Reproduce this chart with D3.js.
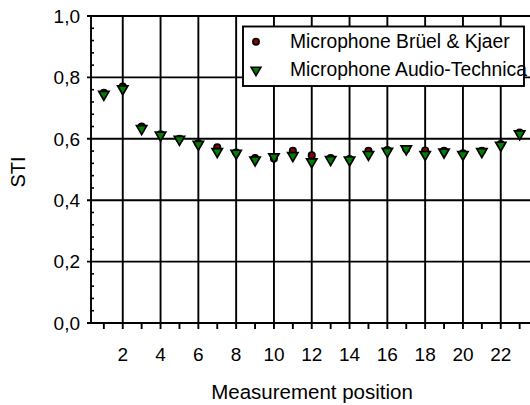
<!DOCTYPE html>
<html>
<head>
<meta charset="utf-8">
<script src="https://cdn.jsdelivr.net/npm/d3@7"></script>
<style>
  html, body { margin: 0; padding: 0; background: #fff; }
  svg { display: block; }
  text { font-family: "Liberation Sans", Arial, sans-serif; fill: #000; }
</style>
</head>
<body>
<svg id="chart" width="530" height="405"></svg>
<script>
const positions = d3.range(1, 24);
const bruelKjaer = [0.750, 0.770, 0.640, 0.615, 0.600, 0.585, 0.572, 0.555, 0.537, 0.536, 0.561, 0.546, 0.537, 0.534, 0.561, 0.563, 0.567, 0.562, 0.561, 0.553, 0.561, 0.583, 0.620];
const audioTechnica = [0.745, 0.763, 0.633, 0.612, 0.598, 0.582, 0.558, 0.553, 0.531, 0.541, 0.545, 0.525, 0.532, 0.531, 0.549, 0.559, 0.567, 0.549, 0.557, 0.549, 0.558, 0.579, 0.616];
const xTicks = [2, 4, 6, 8, 10, 12, 14, 16, 18, 20, 22];
const xMinorTicks = [1, 3, 5, 7, 9, 11, 13, 15, 17, 19, 21, 23];
const yTicks = [0, 0.2, 0.4, 0.6, 0.8, 1.0];
const seriesNames = ["Microphone Brüel & Kjaer", "Microphone Audio-Technica"];
const xTitle = "Measurement position";
const yTitle = "STI";

(function () {
const svg = d3.select("#chart");
const pLeft = 91, pTop = 16, pBottom = 323;
const x = d3.scaleLinear().domain([0.32, 24]).range([pLeft, pLeft + 23.68 * 18.9]);
const y = d3.scaleLinear().domain([0, 1]).range([pBottom, pTop]);
const fmt = d => d3.format(".1f")(d).replace(".", ",");
const lw = 1.9;

const g = svg.append("g");
g.selectAll(".vg").data(xTicks).enter().append("line")
  .attr("x1", d => x(d)).attr("x2", d => x(d))
  .attr("y1", pTop).attr("y2", pBottom + 6)
  .attr("stroke", "#000").attr("stroke-width", lw);
g.selectAll(".vm").data(xMinorTicks).enter().append("line")
  .attr("x1", d => x(d)).attr("x2", d => x(d))
  .attr("y1", pBottom).attr("y2", pBottom + 6)
  .attr("stroke", "#000").attr("stroke-width", lw);
g.selectAll(".hg").data(yTicks).enter().append("line")
  .attr("x1", pLeft - 4).attr("x2", 530)
  .attr("y1", d => y(d)).attr("y2", d => y(d))
  .attr("stroke", "#000").attr("stroke-width", lw);
const yMinor = d3.range(0, 1.0001, 0.04).filter(v => Math.abs(v * 5 - Math.round(v * 5)) > 1e-6);
g.selectAll(".ym").data(yMinor).enter().append("line")
  .attr("x1", pLeft).attr("x2", pLeft + 3)
  .attr("y1", d => y(d)).attr("y2", d => y(d))
  .attr("stroke", "#000").attr("stroke-width", 1.6);
g.append("line").attr("x1", pLeft).attr("x2", pLeft).attr("y1", pTop).attr("y2", pBottom)
  .attr("stroke", "#000").attr("stroke-width", lw);
g.append("line").attr("x1", pLeft).attr("x2", 530).attr("y1", pBottom).attr("y2", pBottom)
  .attr("stroke", "#000").attr("stroke-width", lw);

svg.selectAll(".yl").data(yTicks).enter().append("text")
  .attr("x", 80).attr("y", d => y(d)).attr("dy", "0.36em")
  .attr("text-anchor", "end").attr("font-size", 19).text(fmt);
svg.selectAll(".xl").data(xTicks).enter().append("text")
  .attr("x", d => x(d)).attr("y", 361)
  .attr("text-anchor", "middle").attr("font-size", 19).text(d => d);

svg.append("text").attr("transform", "translate(25,172) rotate(-90)")
  .attr("text-anchor", "middle").attr("font-size", 20).text(yTitle);
svg.append("text").attr("x", 312).attr("y", 399)
  .attr("text-anchor", "middle").attr("font-size", 20.5).text(xTitle);

const circleData = positions.map((p, i) => ({p, v: bruelKjaer[i]}));
const triData = positions.map((p, i) => ({p, v: audioTechnica[i]}));
const tri = d3.symbol().type(d3.symbolTriangle).size(46);
svg.append("g").selectAll("circle").data(circleData).enter().append("circle")
  .attr("cx", d => x(d.p)).attr("cy", d => y(d.v)).attr("r", 3.2)
  .attr("fill", "#8b0000").attr("stroke", "#000").attr("stroke-width", 1.7);
svg.append("g").selectAll("path").data(triData).enter().append("path")
  .attr("d", tri)
  .attr("transform", d => `translate(${x(d.p)},${y(d.v)}) rotate(180)`)
  .attr("fill", "#008000").attr("stroke", "#000").attr("stroke-width", 1.7);

const lg = svg.append("g");
lg.append("rect").attr("x", 243).attr("y", 26.5).attr("width", 281).attr("height", 59.5)
  .attr("fill", "#fff").attr("stroke", "#000").attr("stroke-width", lw);
lg.append("circle").attr("cx", 256).attr("cy", 41.7).attr("r", 3.1)
  .attr("fill", "#8b0000").attr("stroke", "#000").attr("stroke-width", 1.7);
lg.append("path").attr("d", d3.symbol().type(d3.symbolTriangle).size(40)).attr("transform", "translate(256,70) rotate(180)")
  .attr("fill", "#008000").attr("stroke", "#000").attr("stroke-width", 1.7);
lg.selectAll("text").data(seriesNames).enter().append("text")
  .attr("x", 290).attr("y", (d, i) => 48.3 + i * 27.4)
  .attr("font-size", 19.3).text(d => d);
})();
</script>
</body>
</html>
